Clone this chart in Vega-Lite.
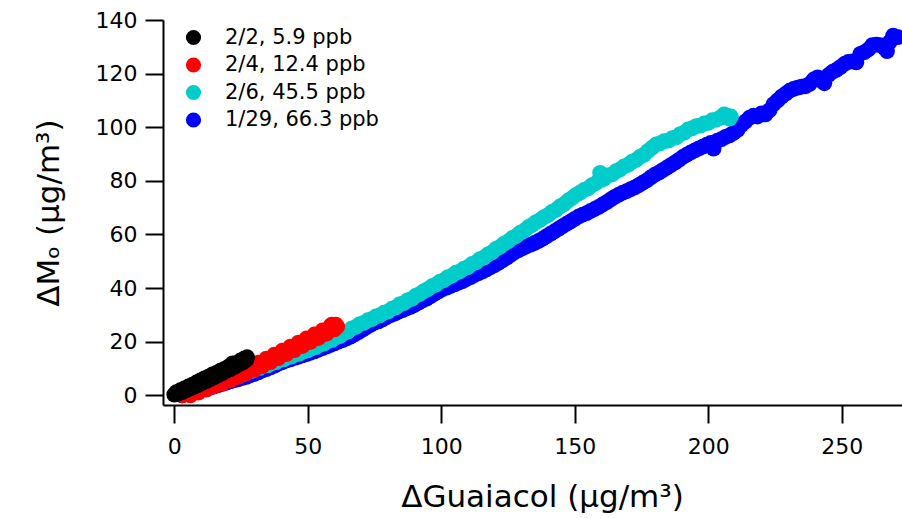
{
"$schema": "https://vega.github.io/schema/vega-lite/v6.json",
"width": 739, "height": 385,
"autosize": {"type": "none"},
"padding": {"left": 163, "top": 20, "right": 0, "bottom": 113},
"background": "white",
"config": {"view": {"stroke": null}, "font": "DejaVu Sans"},
"data": {"values": [
{"series":"1/29, 66.3 ppb","x":3,"y":0.0},{"series":"1/29, 66.3 ppb","x":4.5,"y":0.5},{"series":"1/29, 66.3 ppb","x":6,"y":0.8},{"series":"1/29, 66.3 ppb","x":7.5,"y":1.3},{"series":"1/29, 66.3 ppb","x":9,"y":1.6},{"series":"1/29, 66.3 ppb","x":10.5,"y":2.1},{"series":"1/29, 66.3 ppb","x":12,"y":2.5},{"series":"1/29, 66.3 ppb","x":13.5,"y":3.0},{"series":"1/29, 66.3 ppb","x":15,"y":3.4},{"series":"1/29, 66.3 ppb","x":16.5,"y":3.8},{"series":"1/29, 66.3 ppb","x":18,"y":4.3},{"series":"1/29, 66.3 ppb","x":19.5,"y":4.7},{"series":"1/29, 66.3 ppb","x":21,"y":5.2},{"series":"1/29, 66.3 ppb","x":22.5,"y":5.7},{"series":"1/29, 66.3 ppb","x":24,"y":6.0},{"series":"1/29, 66.3 ppb","x":25.5,"y":6.5},{"series":"1/29, 66.3 ppb","x":27,"y":6.9},{"series":"1/29, 66.3 ppb","x":28.5,"y":7.5},{"series":"1/29, 66.3 ppb","x":30,"y":8.0},{"series":"1/29, 66.3 ppb","x":31.5,"y":8.6},{"series":"1/29, 66.3 ppb","x":33,"y":9.3},{"series":"1/29, 66.3 ppb","x":34.5,"y":9.8},{"series":"1/29, 66.3 ppb","x":36,"y":10.4},{"series":"1/29, 66.3 ppb","x":37.5,"y":11.1},{"series":"1/29, 66.3 ppb","x":39,"y":11.8},{"series":"1/29, 66.3 ppb","x":40.5,"y":12.4},{"series":"1/29, 66.3 ppb","x":42,"y":13.0},{"series":"1/29, 66.3 ppb","x":43.5,"y":13.4},{"series":"1/29, 66.3 ppb","x":45,"y":14.0},{"series":"1/29, 66.3 ppb","x":46.5,"y":14.4},{"series":"1/29, 66.3 ppb","x":48,"y":14.9},{"series":"1/29, 66.3 ppb","x":49.5,"y":15.4},{"series":"1/29, 66.3 ppb","x":51,"y":15.9},{"series":"1/29, 66.3 ppb","x":52.5,"y":16.4},{"series":"1/29, 66.3 ppb","x":54,"y":17.0},{"series":"1/29, 66.3 ppb","x":55.5,"y":17.6},{"series":"1/29, 66.3 ppb","x":57,"y":18.2},{"series":"1/29, 66.3 ppb","x":58.5,"y":18.8},{"series":"1/29, 66.3 ppb","x":60,"y":19.4},{"series":"1/29, 66.3 ppb","x":61.5,"y":20.0},{"series":"1/29, 66.3 ppb","x":63,"y":20.6},{"series":"1/29, 66.3 ppb","x":64.5,"y":21.2},{"series":"1/29, 66.3 ppb","x":66,"y":21.9},{"series":"1/29, 66.3 ppb","x":67.5,"y":22.7},{"series":"1/29, 66.3 ppb","x":69,"y":23.6},{"series":"1/29, 66.3 ppb","x":70.5,"y":24.5},{"series":"1/29, 66.3 ppb","x":72,"y":25.4},{"series":"1/29, 66.3 ppb","x":73.5,"y":26.3},{"series":"1/29, 66.3 ppb","x":75,"y":27.1},{"series":"1/29, 66.3 ppb","x":76.5,"y":27.6},{"series":"1/29, 66.3 ppb","x":78,"y":28.3},{"series":"1/29, 66.3 ppb","x":79.5,"y":29.2},{"series":"1/29, 66.3 ppb","x":81,"y":29.9},{"series":"1/29, 66.3 ppb","x":82.5,"y":30.5},{"series":"1/29, 66.3 ppb","x":84,"y":31.2},{"series":"1/29, 66.3 ppb","x":85.5,"y":31.8},{"series":"1/29, 66.3 ppb","x":87,"y":32.4},{"series":"1/29, 66.3 ppb","x":88.5,"y":33.0},{"series":"1/29, 66.3 ppb","x":90,"y":33.7},{"series":"1/29, 66.3 ppb","x":91.5,"y":34.6},{"series":"1/29, 66.3 ppb","x":93,"y":35.4},{"series":"1/29, 66.3 ppb","x":94.5,"y":36.1},{"series":"1/29, 66.3 ppb","x":96,"y":37.0},{"series":"1/29, 66.3 ppb","x":97.5,"y":37.9},{"series":"1/29, 66.3 ppb","x":99,"y":38.8},{"series":"1/29, 66.3 ppb","x":100.5,"y":39.6},{"series":"1/29, 66.3 ppb","x":102,"y":40.2},{"series":"1/29, 66.3 ppb","x":103.5,"y":40.8},{"series":"1/29, 66.3 ppb","x":105,"y":41.4},{"series":"1/29, 66.3 ppb","x":106.5,"y":42.0},{"series":"1/29, 66.3 ppb","x":108,"y":42.6},{"series":"1/29, 66.3 ppb","x":109.5,"y":43.4},{"series":"1/29, 66.3 ppb","x":111,"y":44.1},{"series":"1/29, 66.3 ppb","x":112.5,"y":44.9},{"series":"1/29, 66.3 ppb","x":114,"y":45.6},{"series":"1/29, 66.3 ppb","x":115.5,"y":46.2},{"series":"1/29, 66.3 ppb","x":117,"y":47.0},{"series":"1/29, 66.3 ppb","x":118.5,"y":47.8},{"series":"1/29, 66.3 ppb","x":120,"y":48.6},{"series":"1/29, 66.3 ppb","x":121.5,"y":49.5},{"series":"1/29, 66.3 ppb","x":123,"y":50.4},{"series":"1/29, 66.3 ppb","x":124.5,"y":51.4},{"series":"1/29, 66.3 ppb","x":126,"y":52.4},{"series":"1/29, 66.3 ppb","x":127.5,"y":53.4},{"series":"1/29, 66.3 ppb","x":129,"y":54.2},{"series":"1/29, 66.3 ppb","x":130.5,"y":54.9},{"series":"1/29, 66.3 ppb","x":132,"y":55.6},{"series":"1/29, 66.3 ppb","x":133.5,"y":56.2},{"series":"1/29, 66.3 ppb","x":135,"y":56.9},{"series":"1/29, 66.3 ppb","x":136.5,"y":57.6},{"series":"1/29, 66.3 ppb","x":138,"y":58.4},{"series":"1/29, 66.3 ppb","x":139.5,"y":59.4},{"series":"1/29, 66.3 ppb","x":141,"y":60.3},{"series":"1/29, 66.3 ppb","x":142.5,"y":61.2},{"series":"1/29, 66.3 ppb","x":144,"y":62.2},{"series":"1/29, 66.3 ppb","x":145.5,"y":63.1},{"series":"1/29, 66.3 ppb","x":147,"y":64.0},{"series":"1/29, 66.3 ppb","x":148.5,"y":64.9},{"series":"1/29, 66.3 ppb","x":150,"y":65.8},{"series":"1/29, 66.3 ppb","x":151.5,"y":66.7},{"series":"1/29, 66.3 ppb","x":153,"y":67.4},{"series":"1/29, 66.3 ppb","x":154.5,"y":68.0},{"series":"1/29, 66.3 ppb","x":156,"y":68.8},{"series":"1/29, 66.3 ppb","x":157.5,"y":69.5},{"series":"1/29, 66.3 ppb","x":159,"y":70.3},{"series":"1/29, 66.3 ppb","x":160.5,"y":71.2},{"series":"1/29, 66.3 ppb","x":162,"y":72.1},{"series":"1/29, 66.3 ppb","x":163.5,"y":73.1},{"series":"1/29, 66.3 ppb","x":165,"y":74.0},{"series":"1/29, 66.3 ppb","x":166.5,"y":74.9},{"series":"1/29, 66.3 ppb","x":168,"y":75.6},{"series":"1/29, 66.3 ppb","x":169.5,"y":76.2},{"series":"1/29, 66.3 ppb","x":171,"y":76.9},{"series":"1/29, 66.3 ppb","x":172.5,"y":77.6},{"series":"1/29, 66.3 ppb","x":174,"y":78.4},{"series":"1/29, 66.3 ppb","x":175.5,"y":79.3},{"series":"1/29, 66.3 ppb","x":177,"y":80.2},{"series":"1/29, 66.3 ppb","x":178.5,"y":81.3},{"series":"1/29, 66.3 ppb","x":180,"y":82.3},{"series":"1/29, 66.3 ppb","x":181.5,"y":83.1},{"series":"1/29, 66.3 ppb","x":183,"y":84.0},{"series":"1/29, 66.3 ppb","x":184.5,"y":84.9},{"series":"1/29, 66.3 ppb","x":186,"y":85.9},{"series":"1/29, 66.3 ppb","x":187.5,"y":86.8},{"series":"1/29, 66.3 ppb","x":189,"y":87.8},{"series":"1/29, 66.3 ppb","x":190.5,"y":88.9},{"series":"1/29, 66.3 ppb","x":192,"y":89.8},{"series":"1/29, 66.3 ppb","x":193.5,"y":90.6},{"series":"1/29, 66.3 ppb","x":195,"y":91.4},{"series":"1/29, 66.3 ppb","x":196.5,"y":92.1},{"series":"1/29, 66.3 ppb","x":198,"y":92.8},{"series":"1/29, 66.3 ppb","x":199.5,"y":93.5},{"series":"1/29, 66.3 ppb","x":201,"y":94.2},{"series":"1/29, 66.3 ppb","x":202,"y":92.0},{"series":"1/29, 66.3 ppb","x":203.5,"y":95.0},{"series":"1/29, 66.3 ppb","x":205,"y":95.6},{"series":"1/29, 66.3 ppb","x":206.5,"y":96.4},{"series":"1/29, 66.3 ppb","x":208,"y":97.0},{"series":"1/29, 66.3 ppb","x":209.5,"y":97.9},{"series":"1/29, 66.3 ppb","x":211,"y":99.0},{"series":"1/29, 66.3 ppb","x":212.5,"y":100.9},{"series":"1/29, 66.3 ppb","x":214,"y":102.2},{"series":"1/29, 66.3 ppb","x":215.5,"y":103.6},{"series":"1/29, 66.3 ppb","x":217,"y":104.3},{"series":"1/29, 66.3 ppb","x":218.5,"y":104.0},{"series":"1/29, 66.3 ppb","x":220,"y":105.2},{"series":"1/29, 66.3 ppb","x":221.5,"y":104.8},{"series":"1/29, 66.3 ppb","x":223,"y":106.4},{"series":"1/29, 66.3 ppb","x":224.5,"y":108.6},{"series":"1/29, 66.3 ppb","x":226,"y":110.0},{"series":"1/29, 66.3 ppb","x":227.5,"y":111.4},{"series":"1/29, 66.3 ppb","x":229,"y":112.5},{"series":"1/29, 66.3 ppb","x":230.5,"y":113.6},{"series":"1/29, 66.3 ppb","x":232,"y":114.3},{"series":"1/29, 66.3 ppb","x":233.5,"y":114.8},{"series":"1/29, 66.3 ppb","x":235,"y":115.1},{"series":"1/29, 66.3 ppb","x":236.5,"y":115.3},{"series":"1/29, 66.3 ppb","x":238,"y":116.2},{"series":"1/29, 66.3 ppb","x":239.5,"y":117.8},{"series":"1/29, 66.3 ppb","x":241,"y":118.6},{"series":"1/29, 66.3 ppb","x":242.5,"y":117.3},{"series":"1/29, 66.3 ppb","x":243.5,"y":116.4},{"series":"1/29, 66.3 ppb","x":245,"y":119.4},{"series":"1/29, 66.3 ppb","x":246.5,"y":120.6},{"series":"1/29, 66.3 ppb","x":248,"y":121.4},{"series":"1/29, 66.3 ppb","x":249.5,"y":122.4},{"series":"1/29, 66.3 ppb","x":251,"y":123.6},{"series":"1/29, 66.3 ppb","x":252.5,"y":124.4},{"series":"1/29, 66.3 ppb","x":254,"y":124.6},{"series":"1/29, 66.3 ppb","x":255.5,"y":124.2},{"series":"1/29, 66.3 ppb","x":257,"y":127.4},{"series":"1/29, 66.3 ppb","x":258.5,"y":128.0},{"series":"1/29, 66.3 ppb","x":260,"y":129.0},{"series":"1/29, 66.3 ppb","x":261.5,"y":130.6},{"series":"1/29, 66.3 ppb","x":263,"y":130.8},{"series":"1/29, 66.3 ppb","x":264.5,"y":130.6},{"series":"1/29, 66.3 ppb","x":266,"y":129.6},{"series":"1/29, 66.3 ppb","x":267,"y":128.4},{"series":"1/29, 66.3 ppb","x":268,"y":131.8},{"series":"1/29, 66.3 ppb","x":269.3,"y":134.2},{"series":"1/29, 66.3 ppb","x":271,"y":133.6},
{"series":"2/6, 45.5 ppb","x":5,"y":0.8},{"series":"2/6, 45.5 ppb","x":6.5,"y":1.5},{"series":"2/6, 45.5 ppb","x":8,"y":1.8},{"series":"2/6, 45.5 ppb","x":9.5,"y":2.5},{"series":"2/6, 45.5 ppb","x":11,"y":2.8},{"series":"2/6, 45.5 ppb","x":12.5,"y":3.5},{"series":"2/6, 45.5 ppb","x":14,"y":3.8},{"series":"2/6, 45.5 ppb","x":15.5,"y":4.5},{"series":"2/6, 45.5 ppb","x":17,"y":4.8},{"series":"2/6, 45.5 ppb","x":18.5,"y":5.5},{"series":"2/6, 45.5 ppb","x":20,"y":5.8},{"series":"2/6, 45.5 ppb","x":21.5,"y":6.6},{"series":"2/6, 45.5 ppb","x":23,"y":6.9},{"series":"2/6, 45.5 ppb","x":24.5,"y":7.7},{"series":"2/6, 45.5 ppb","x":26,"y":8.0},{"series":"2/6, 45.5 ppb","x":27.5,"y":8.8},{"series":"2/6, 45.5 ppb","x":29,"y":9.1},{"series":"2/6, 45.5 ppb","x":30.5,"y":9.9},{"series":"2/6, 45.5 ppb","x":32,"y":10.2},{"series":"2/6, 45.5 ppb","x":33.5,"y":11.0},{"series":"2/6, 45.5 ppb","x":35,"y":11.2},{"series":"2/6, 45.5 ppb","x":36.5,"y":12.0},{"series":"2/6, 45.5 ppb","x":38,"y":12.3},{"series":"2/6, 45.5 ppb","x":39.5,"y":13.1},{"series":"2/6, 45.5 ppb","x":41,"y":13.4},{"series":"2/6, 45.5 ppb","x":42.5,"y":14.2},{"series":"2/6, 45.5 ppb","x":44,"y":14.5},{"series":"2/6, 45.5 ppb","x":45.5,"y":15.3},{"series":"2/6, 45.5 ppb","x":47,"y":15.6},{"series":"2/6, 45.5 ppb","x":48.5,"y":16.4},{"series":"2/6, 45.5 ppb","x":50,"y":16.8},{"series":"2/6, 45.5 ppb","x":51.5,"y":17.6},{"series":"2/6, 45.5 ppb","x":53,"y":18.0},{"series":"2/6, 45.5 ppb","x":54.5,"y":18.9},{"series":"2/6, 45.5 ppb","x":56,"y":19.3},{"series":"2/6, 45.5 ppb","x":57.5,"y":20.2},{"series":"2/6, 45.5 ppb","x":59,"y":20.6},{"series":"2/6, 45.5 ppb","x":60.5,"y":21.6},{"series":"2/6, 45.5 ppb","x":62,"y":22.1},{"series":"2/6, 45.5 ppb","x":63.5,"y":23.2},{"series":"2/6, 45.5 ppb","x":65,"y":23.8},{"series":"2/6, 45.5 ppb","x":66.5,"y":25.0},{"series":"2/6, 45.5 ppb","x":68,"y":25.5},{"series":"2/6, 45.5 ppb","x":69.5,"y":26.6},{"series":"2/6, 45.5 ppb","x":71,"y":27.0},{"series":"2/6, 45.5 ppb","x":72.5,"y":28.0},{"series":"2/6, 45.5 ppb","x":74,"y":28.4},{"series":"2/6, 45.5 ppb","x":75.5,"y":29.4},{"series":"2/6, 45.5 ppb","x":77,"y":29.8},{"series":"2/6, 45.5 ppb","x":78.5,"y":30.8},{"series":"2/6, 45.5 ppb","x":80,"y":31.2},{"series":"2/6, 45.5 ppb","x":81.5,"y":32.3},{"series":"2/6, 45.5 ppb","x":83,"y":32.8},{"series":"2/6, 45.5 ppb","x":84.5,"y":34.0},{"series":"2/6, 45.5 ppb","x":86,"y":34.4},{"series":"2/6, 45.5 ppb","x":87.5,"y":35.5},{"series":"2/6, 45.5 ppb","x":89,"y":36.0},{"series":"2/6, 45.5 ppb","x":90.5,"y":37.2},{"series":"2/6, 45.5 ppb","x":92,"y":37.8},{"series":"2/6, 45.5 ppb","x":93.5,"y":38.9},{"series":"2/6, 45.5 ppb","x":95,"y":39.6},{"series":"2/6, 45.5 ppb","x":96.5,"y":40.7},{"series":"2/6, 45.5 ppb","x":98,"y":41.3},{"series":"2/6, 45.5 ppb","x":99.5,"y":42.4},{"series":"2/6, 45.5 ppb","x":101,"y":43.0},{"series":"2/6, 45.5 ppb","x":102.5,"y":44.1},{"series":"2/6, 45.5 ppb","x":104,"y":44.6},{"series":"2/6, 45.5 ppb","x":105.5,"y":45.8},{"series":"2/6, 45.5 ppb","x":107,"y":46.2},{"series":"2/6, 45.5 ppb","x":108.5,"y":47.3},{"series":"2/6, 45.5 ppb","x":110,"y":47.8},{"series":"2/6, 45.5 ppb","x":111.5,"y":49.0},{"series":"2/6, 45.5 ppb","x":113,"y":49.6},{"series":"2/6, 45.5 ppb","x":114.5,"y":50.8},{"series":"2/6, 45.5 ppb","x":116,"y":51.4},{"series":"2/6, 45.5 ppb","x":117.5,"y":52.6},{"series":"2/6, 45.5 ppb","x":119,"y":53.3},{"series":"2/6, 45.5 ppb","x":120.5,"y":54.6},{"series":"2/6, 45.5 ppb","x":122,"y":55.4},{"series":"2/6, 45.5 ppb","x":123.5,"y":56.6},{"series":"2/6, 45.5 ppb","x":125,"y":57.4},{"series":"2/6, 45.5 ppb","x":126.5,"y":58.6},{"series":"2/6, 45.5 ppb","x":128,"y":59.4},{"series":"2/6, 45.5 ppb","x":129.5,"y":60.6},{"series":"2/6, 45.5 ppb","x":131,"y":61.4},{"series":"2/6, 45.5 ppb","x":132.5,"y":62.6},{"series":"2/6, 45.5 ppb","x":134,"y":63.5},{"series":"2/6, 45.5 ppb","x":135.5,"y":64.6},{"series":"2/6, 45.5 ppb","x":137,"y":65.4},{"series":"2/6, 45.5 ppb","x":138.5,"y":66.5},{"series":"2/6, 45.5 ppb","x":140,"y":67.2},{"series":"2/6, 45.5 ppb","x":141.5,"y":68.4},{"series":"2/6, 45.5 ppb","x":143,"y":69.2},{"series":"2/6, 45.5 ppb","x":144.5,"y":70.5},{"series":"2/6, 45.5 ppb","x":146,"y":71.3},{"series":"2/6, 45.5 ppb","x":147.5,"y":72.6},{"series":"2/6, 45.5 ppb","x":149,"y":73.6},{"series":"2/6, 45.5 ppb","x":150.5,"y":74.8},{"series":"2/6, 45.5 ppb","x":152,"y":75.6},{"series":"2/6, 45.5 ppb","x":153.5,"y":76.6},{"series":"2/6, 45.5 ppb","x":155,"y":77.2},{"series":"2/6, 45.5 ppb","x":156.5,"y":78.4},{"series":"2/6, 45.5 ppb","x":158,"y":79.2},{"series":"2/6, 45.5 ppb","x":159.5,"y":83.0},{"series":"2/6, 45.5 ppb","x":160,"y":80.4},{"series":"2/6, 45.5 ppb","x":161,"y":80.8},{"series":"2/6, 45.5 ppb","x":162.5,"y":82.0},{"series":"2/6, 45.5 ppb","x":164,"y":82.4},{"series":"2/6, 45.5 ppb","x":165.5,"y":83.6},{"series":"2/6, 45.5 ppb","x":167,"y":84.3},{"series":"2/6, 45.5 ppb","x":168.5,"y":85.4},{"series":"2/6, 45.5 ppb","x":170,"y":86.0},{"series":"2/6, 45.5 ppb","x":171.5,"y":87.2},{"series":"2/6, 45.5 ppb","x":173,"y":87.8},{"series":"2/6, 45.5 ppb","x":174.5,"y":89.0},{"series":"2/6, 45.5 ppb","x":176,"y":89.8},{"series":"2/6, 45.5 ppb","x":177.5,"y":91.2},{"series":"2/6, 45.5 ppb","x":179,"y":92.4},{"series":"2/6, 45.5 ppb","x":180.5,"y":93.6},{"series":"2/6, 45.5 ppb","x":182,"y":94.0},{"series":"2/6, 45.5 ppb","x":183.5,"y":94.8},{"series":"2/6, 45.5 ppb","x":185,"y":95.0},{"series":"2/6, 45.5 ppb","x":186.5,"y":95.9},{"series":"2/6, 45.5 ppb","x":188,"y":96.2},{"series":"2/6, 45.5 ppb","x":189.5,"y":97.4},{"series":"2/6, 45.5 ppb","x":191,"y":98.0},{"series":"2/6, 45.5 ppb","x":192.5,"y":99.2},{"series":"2/6, 45.5 ppb","x":194,"y":99.6},{"series":"2/6, 45.5 ppb","x":195.5,"y":100.4},{"series":"2/6, 45.5 ppb","x":197,"y":100.6},{"series":"2/6, 45.5 ppb","x":198.5,"y":101.4},{"series":"2/6, 45.5 ppb","x":200,"y":101.6},{"series":"2/6, 45.5 ppb","x":201.5,"y":102.6},{"series":"2/6, 45.5 ppb","x":203,"y":102.8},{"series":"2/6, 45.5 ppb","x":204.5,"y":103.6},{"series":"2/6, 45.5 ppb","x":205,"y":103.8},{"series":"2/6, 45.5 ppb","x":206,"y":104.8},{"series":"2/6, 45.5 ppb","x":207,"y":104.2},{"series":"2/6, 45.5 ppb","x":208,"y":103.2},{"series":"2/6, 45.5 ppb","x":208.5,"y":104.0},
{"series":"2/4, 12.4 ppb","x":3,"y":0.0},{"series":"2/4, 12.4 ppb","x":4.5,"y":1.2},{"series":"2/4, 12.4 ppb","x":6,"y":0.0},{"series":"2/4, 12.4 ppb","x":7.5,"y":2.3},{"series":"2/4, 12.4 ppb","x":9,"y":1.0},{"series":"2/4, 12.4 ppb","x":10.5,"y":3.5},{"series":"2/4, 12.4 ppb","x":12,"y":2.1},{"series":"2/4, 12.4 ppb","x":13.5,"y":4.7},{"series":"2/4, 12.4 ppb","x":15,"y":3.3},{"series":"2/4, 12.4 ppb","x":16.5,"y":5.8},{"series":"2/4, 12.4 ppb","x":18,"y":4.4},{"series":"2/4, 12.4 ppb","x":19.5,"y":7.0},{"series":"2/4, 12.4 ppb","x":21,"y":5.6},{"series":"2/4, 12.4 ppb","x":22.5,"y":8.3},{"series":"2/4, 12.4 ppb","x":24,"y":6.9},{"series":"2/4, 12.4 ppb","x":25.5,"y":9.6},{"series":"2/4, 12.4 ppb","x":27,"y":8.2},{"series":"2/4, 12.4 ppb","x":28.5,"y":10.9},{"series":"2/4, 12.4 ppb","x":30,"y":9.5},{"series":"2/4, 12.4 ppb","x":31.5,"y":12.2},{"series":"2/4, 12.4 ppb","x":33,"y":10.9},{"series":"2/4, 12.4 ppb","x":34.5,"y":13.7},{"series":"2/4, 12.4 ppb","x":36,"y":12.4},{"series":"2/4, 12.4 ppb","x":37.5,"y":15.2},{"series":"2/4, 12.4 ppb","x":39,"y":13.9},{"series":"2/4, 12.4 ppb","x":40.5,"y":16.7},{"series":"2/4, 12.4 ppb","x":42,"y":15.4},{"series":"2/4, 12.4 ppb","x":43.5,"y":18.2},{"series":"2/4, 12.4 ppb","x":45,"y":16.9},{"series":"2/4, 12.4 ppb","x":46.5,"y":19.7},{"series":"2/4, 12.4 ppb","x":48,"y":18.4},{"series":"2/4, 12.4 ppb","x":49.5,"y":21.2},{"series":"2/4, 12.4 ppb","x":51,"y":19.9},{"series":"2/4, 12.4 ppb","x":52.5,"y":22.7},{"series":"2/4, 12.4 ppb","x":54,"y":21.4},{"series":"2/4, 12.4 ppb","x":55.5,"y":24.2},{"series":"2/4, 12.4 ppb","x":57,"y":23.0},{"series":"2/4, 12.4 ppb","x":58.5,"y":25.8},{"series":"2/4, 12.4 ppb","x":60,"y":24.6},{"series":"2/4, 12.4 ppb","x":60.5,"y":26.4},{"series":"2/4, 12.4 ppb","x":61,"y":25.6},{"series":"2/4, 12.4 ppb","x":59,"y":26.4},{"series":"2/4, 12.4 ppb","x":56,"y":22.8},
{"series":"2/2, 5.9 ppb","x":0,"y":0.3},{"series":"2/2, 5.9 ppb","x":0.8,"y":1.2},{"series":"2/2, 5.9 ppb","x":1.5,"y":0.6},{"series":"2/2, 5.9 ppb","x":2.3,"y":1.9},{"series":"2/2, 5.9 ppb","x":3,"y":1.2},{"series":"2/2, 5.9 ppb","x":3.8,"y":2.6},{"series":"2/2, 5.9 ppb","x":4.5,"y":1.9},{"series":"2/2, 5.9 ppb","x":5.3,"y":3.3},{"series":"2/2, 5.9 ppb","x":6,"y":2.6},{"series":"2/2, 5.9 ppb","x":6.8,"y":4.0},{"series":"2/2, 5.9 ppb","x":7.5,"y":3.2},{"series":"2/2, 5.9 ppb","x":8.3,"y":4.8},{"series":"2/2, 5.9 ppb","x":9,"y":3.9},{"series":"2/2, 5.9 ppb","x":9.8,"y":5.6},{"series":"2/2, 5.9 ppb","x":10.5,"y":4.6},{"series":"2/2, 5.9 ppb","x":11.3,"y":6.3},{"series":"2/2, 5.9 ppb","x":12,"y":5.3},{"series":"2/2, 5.9 ppb","x":12.8,"y":7.0},{"series":"2/2, 5.9 ppb","x":13.5,"y":6.0},{"series":"2/2, 5.9 ppb","x":14.3,"y":7.8},{"series":"2/2, 5.9 ppb","x":15,"y":6.8},{"series":"2/2, 5.9 ppb","x":15.8,"y":8.4},{"series":"2/2, 5.9 ppb","x":16.5,"y":7.5},{"series":"2/2, 5.9 ppb","x":17.3,"y":9.2},{"series":"2/2, 5.9 ppb","x":18,"y":8.3},{"series":"2/2, 5.9 ppb","x":18.8,"y":9.9},{"series":"2/2, 5.9 ppb","x":19.5,"y":9.1},{"series":"2/2, 5.9 ppb","x":20.3,"y":10.7},{"series":"2/2, 5.9 ppb","x":21,"y":9.8},{"series":"2/2, 5.9 ppb","x":21.8,"y":11.9},{"series":"2/2, 5.9 ppb","x":22.5,"y":10.6},{"series":"2/2, 5.9 ppb","x":23.3,"y":12.0},{"series":"2/2, 5.9 ppb","x":24,"y":11.4},{"series":"2/2, 5.9 ppb","x":24.8,"y":13.0},{"series":"2/2, 5.9 ppb","x":25.5,"y":12.2},{"series":"2/2, 5.9 ppb","x":26.3,"y":13.8},{"series":"2/2, 5.9 ppb","x":27,"y":13.2},{"series":"2/2, 5.9 ppb","x":27.3,"y":14.2}
]},
"mark": {"type": "circle", "size": 250, "opacity": 1},
"encoding": {
 "x": {"field": "x", "type": "quantitative", "scale": {"domain": [-4.23, 272.6], "nice": false, "zero": false},
  "axis": {"values": [0, 50, 100, 150, 200, 250], "title": "ΔGuaiacol (µg/m³)", "grid": false, "domainColor": "black", "domainWidth": 2, "tickColor": "black", "tickWidth": 2, "tickSize": 18, "labelFontSize": 22, "labelColor": "black", "labelFont": "DejaVu Sans", "labelPadding": 13, "titleFontSize": 31, "titleFont": "DejaVu Sans", "titleFontWeight": "normal", "titleColor": "black", "titlePadding": 25, "titleX": 379}},
 "y": {"field": "y", "type": "quantitative", "scale": {"domain": [-3.6, 140], "nice": false, "zero": false},
  "axis": {"values": [0, 20, 40, 60, 80, 100, 120, 140], "title": "ΔMₒ (µg/m³)", "grid": false, "domainColor": "black", "domainWidth": 2, "tickColor": "black", "tickWidth": 2, "tickSize": 18, "labelFontSize": 22, "labelColor": "black", "labelFont": "DejaVu Sans", "labelPadding": 8, "titleFontSize": 31, "titleFont": "DejaVu Sans", "titleFontWeight": "normal", "titleColor": "black", "titlePadding": 30}},
 "color": {"field": "series", "type": "nominal",
  "scale": {"domain": ["2/2, 5.9 ppb", "2/4, 12.4 ppb", "2/6, 45.5 ppb", "1/29, 66.3 ppb"], "range": ["#000000", "#ff0000", "#00cccc", "#0000ff"]},
  "legend": {"orient": "none", "legendX": 20, "legendY": 7, "title": null, "symbolType": "circle", "symbolSize": 230, "symbolStrokeWidth": 0, "symbolOpacity": 1, "labelFontSize": 21, "labelFont": "DejaVu Sans", "labelColor": "black", "labelOffset": 21, "rowPadding": 5.5, "padding": 0}}
}
}
